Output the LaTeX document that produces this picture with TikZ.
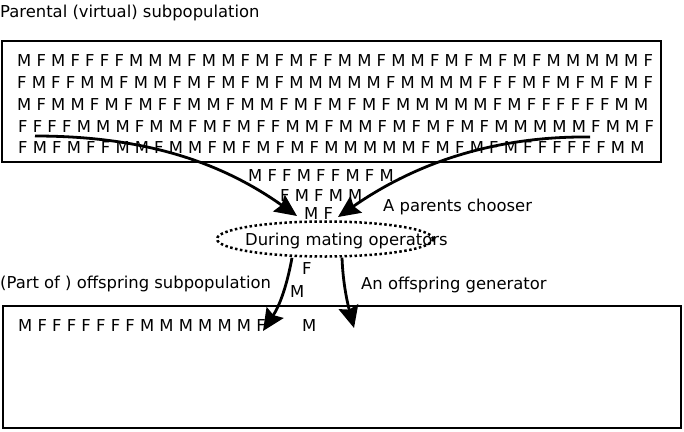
\documentclass[tikz,border=0pt]{standalone}
\usepackage{fontspec}
\setmainfont{DejaVu Sans}
\usetikzlibrary{positioning, arrows.meta, shapes.geometric}

\begin{document}
\begin{tikzpicture}[
    x=1pt, y=-1pt,
    >={Stealth[length=22pt, width=20pt, inset=3pt]},
    popbox/.style={draw, line width=2pt, inner sep=0pt},
    sexes/.style={font=\fontsize{16.4}{19}\selectfont, inner sep=0pt,
                  anchor=west},
    lbl/.style={font=\fontsize{16.4}{19}\selectfont, inner sep=0pt,
                anchor=base west},
    mating/.style={draw, ellipse, line width=2.5pt,
                   dash pattern=on 2.5pt off 2.5pt, inner sep=0pt},
    arr/.style={->, line width=2.8pt},
]

\useasboundingbox (0,0) rectangle (684,431);

% ══════════════════════════════════════
%  TOP: Parental subpopulation
% ══════════════════════════════════════

\node[lbl] (parlbl) at (0,17) {Parental (virtual) subpopulation};

\node[popbox, minimum width=659pt, minimum height=121pt] (parental)
    at (331.5,101.5) {};

\node[sexes] (row1) at (17,61)
    {M F M F F F F M M M F M M F M F M F F M M F M M F M F M F M F M M M M M F};
\node[sexes] (row2) at (17,83)
    {F M F F M M F M M F M F M F M F M M M M M F M M M M F F F M F M F M F M F};
\node[sexes] (row3) at (17,105)
    {M F M M F M F M F F M M F M M F M F M F M F M M M M M F M F F F F F F M M};
\node[sexes] (row4) at (18,127)
    {F F F F M M M F M M F M F M F F M M F M M F M F M F M F M M M M M F M M F};
\node[sexes] (row5) at (18,148)
    {F M F M F F M M F M M F M F M F M F M M M M M F M F M F M F F F F F F M M};

% ══════════════════════════════════════
%  MIDDLE: Mating
% ══════════════════════════════════════

% Chosen parents
\node[sexes] (chosen1) at (248,176) {M F F M F F M F M};
\node[sexes] (chosen2) at (280,196) {F M F M M};
\node[sexes] (chosen3) at (304,214) {M F};
\node[lbl] (chooser) at (383,211) {A parents chooser};

% Mating operators
\node[mating, minimum width=216pt, minimum height=35pt] (mating)
    at (325,239) {};
\node[lbl] (matlbl) at (245,245) {During mating operators};

% Offspring on the way
\node[sexes] (newF) at (302,269) {F};
\node[sexes] (newM) at (290,292) {M};
\node[lbl] (offlbl) at (0,288) {(Part of ) offspring subpopulation};
\node[lbl] (genlbl) at (361,289) {An offspring generator};

% ══════════════════════════════════════
%  BOTTOM: Offspring subpopulation
% ══════════════════════════════════════

\node[popbox, minimum width=678pt, minimum height=122pt] (offspring)
    at (342,367) {};
\node[sexes] (offrow) at (18,326) {M F F F F F F F M M M M M M F};
\node[sexes] (offnext) at (302,326) {M};

% ══════════════════════════════════════
%  ARROWS
% ══════════════════════════════════════

\coordinate (pickL) at (35,136);
\coordinate (pickR) at (590,137);
\coordinate (intoL) at (297,216);
\coordinate (intoR) at (338,217);
\coordinate (dropL) at (263,331);
\coordinate (dropR) at (354,328);

% Parents chooser
\draw[arr] (pickL) .. controls (150,136) and (225,165) .. (intoL);
\draw[arr] (pickR) .. controls (500,136) and (420,160) .. (intoR);

% Offspring generator
\draw[arr] ([xshift=-33pt]mating.south) .. controls (287,285) and (280,305) .. (dropL);
\draw[arr] ([xshift=17pt]mating.south) .. controls (343,285) and (348,305) .. (dropR);

\end{tikzpicture}
\end{document}
